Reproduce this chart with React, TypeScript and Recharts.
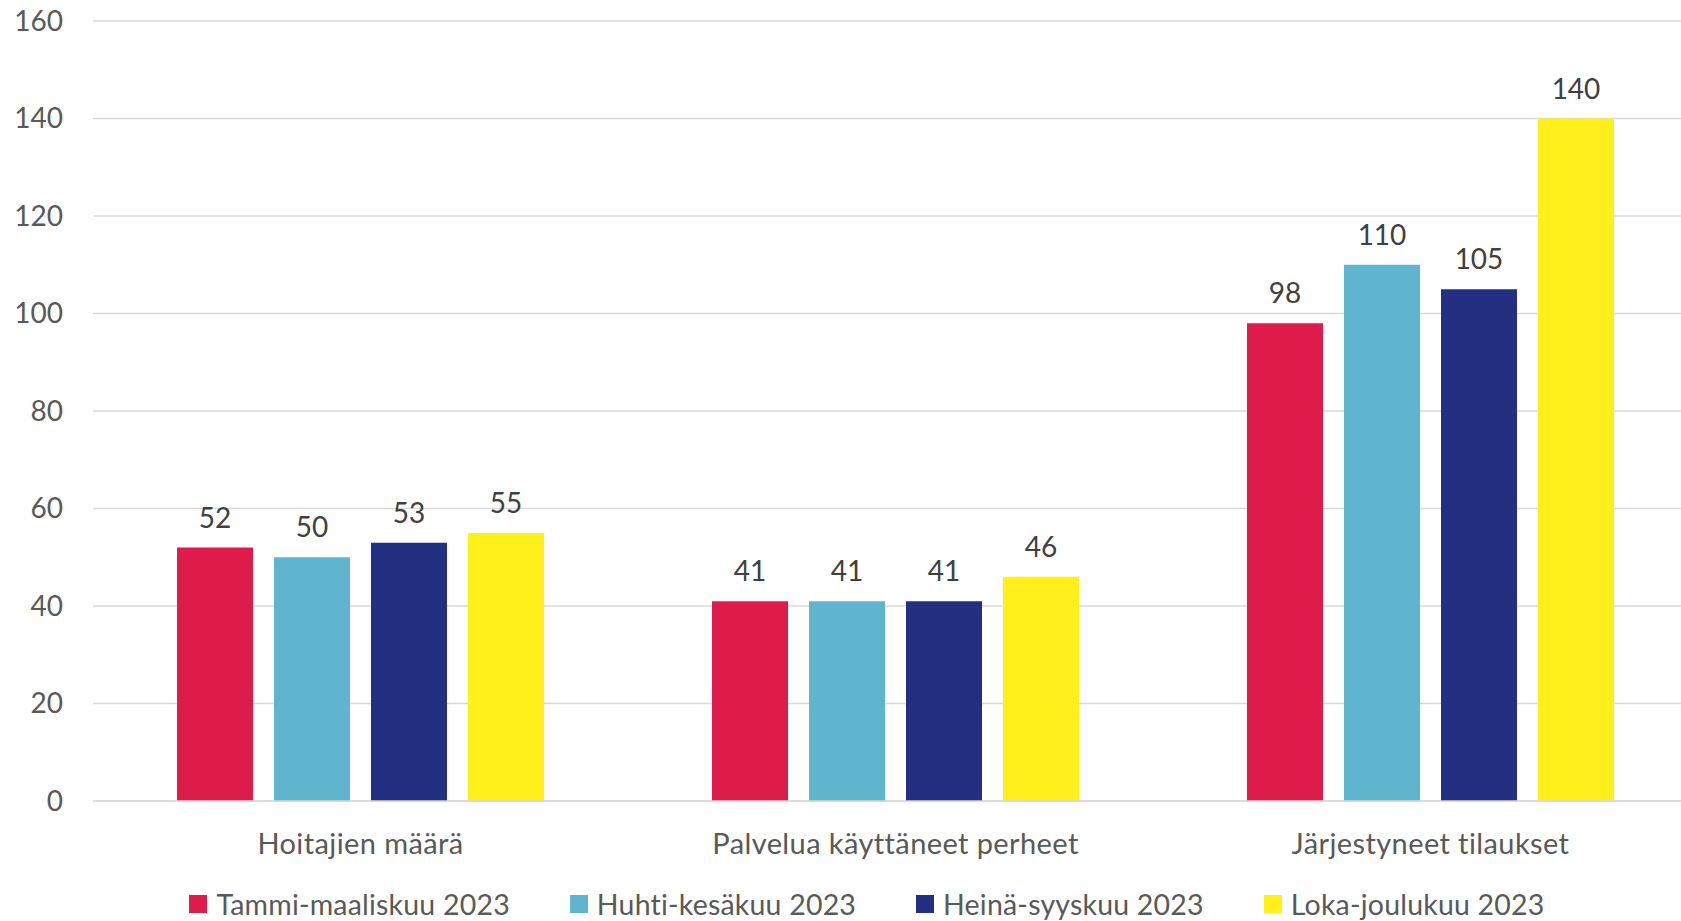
import { BarChart, Bar, XAxis, YAxis, CartesianGrid, Legend, LabelList } from 'recharts';

const categories = ['Hoitajien määrä', 'Palvelua käyttäneet perheet', 'Järjestyneet tilaukset'];
const tammiMaalis = [52, 41, 98];
const huhtiKesa = [50, 41, 110];
const heinaSyys = [53, 41, 105];
const lokaJoulu = [55, 46, 140];
const yTicks = [0, 20, 40, 60, 80, 100, 120, 140, 160];

const series = [
  { key: 'q1', name: 'Tammi-maaliskuu 2023', color: '#DE1C4B' },
  { key: 'q2', name: 'Huhti-kesäkuu 2023', color: '#5EB5CD' },
  { key: 'q3', name: 'Heinä-syyskuu 2023', color: '#232F80' },
  { key: 'q4', name: 'Loka-joulukuu 2023', color: '#FFF01C' },
];

const data = categories.map((name, i) => ({
  name,
  q1: tammiMaalis[i],
  q2: huhtiKesa[i],
  q3: heinaSyys[i],
  q4: lokaJoulu[i],
}));

const font = 'Lato, "Open Sans", sans-serif';

function LegendRow() {
  return (
    <div style={{ position: 'relative', width: 1734, height: 60 }}>
      <div
        style={{
          position: 'absolute',
          top: 29,
          left: 0,
          width: '100%',
          height: 28,
          display: 'flex',
          justifyContent: 'center',
          alignItems: 'center',
          gap: 60,
          fontFamily: font,
          fontSize: 28.5,
          letterSpacing: 0.2,
          lineHeight: '28px',
          color: '#595959',
        }}
      >
        {series.map((s) => (
          <div key={s.key} style={{ display: 'flex', alignItems: 'center' }}>
            <span style={{ width: 18, height: 18, background: s.color, marginRight: 9, display: 'inline-block' }} />
            <span style={{ whiteSpace: 'nowrap' }}>{s.name}</span>
          </div>
        ))}
      </div>
    </div>
  );
}

export default function App() {
  return (
    <div style={{ position: 'fixed', left: 0, top: 0, width: 1681, height: 921, overflow: 'hidden', background: '#fff' }}>
      <BarChart
        width={1700}
        height={921}
        data={data}
        margin={{ top: 21, right: 2, left: 0, bottom: 0 }}
        barSize={76}
        barGap={21}
      >
        <CartesianGrid vertical={false} stroke="#D9D9D9" strokeWidth={1.5} />
        <XAxis
          dataKey="name"
          axisLine={{ stroke: '#D9D9D9', strokeWidth: 1.5 }}
          tickLine={false}
          tickSize={0}
          tickMargin={32}
          height={60}
          tick={{ fill: '#595959', fontSize: 29, fontFamily: font, letterSpacing: 0.4 }}
        />
        <YAxis
          domain={[0, 160]}
          ticks={yTicks}
          width={93}
          axisLine={false}
          tickLine={false}
          tickSize={0}
          tickMargin={30}
          tick={{ fill: '#595959', fontSize: 28, fontFamily: font }}
        />
        <Legend verticalAlign="bottom" content={() => <LegendRow />} wrapperStyle={{ left: 0, bottom: 0, width: 1734, height: 60 }} />
        {series.map((s) => (
          <Bar key={s.key} dataKey={s.key} name={s.name} fill={s.color} isAnimationActive={false}>
            <LabelList dataKey={s.key} position="top" offset={20} fill="#404040" fontSize={28} fontFamily={font} />
          </Bar>
        ))}
      </BarChart>
    </div>
  );
}
